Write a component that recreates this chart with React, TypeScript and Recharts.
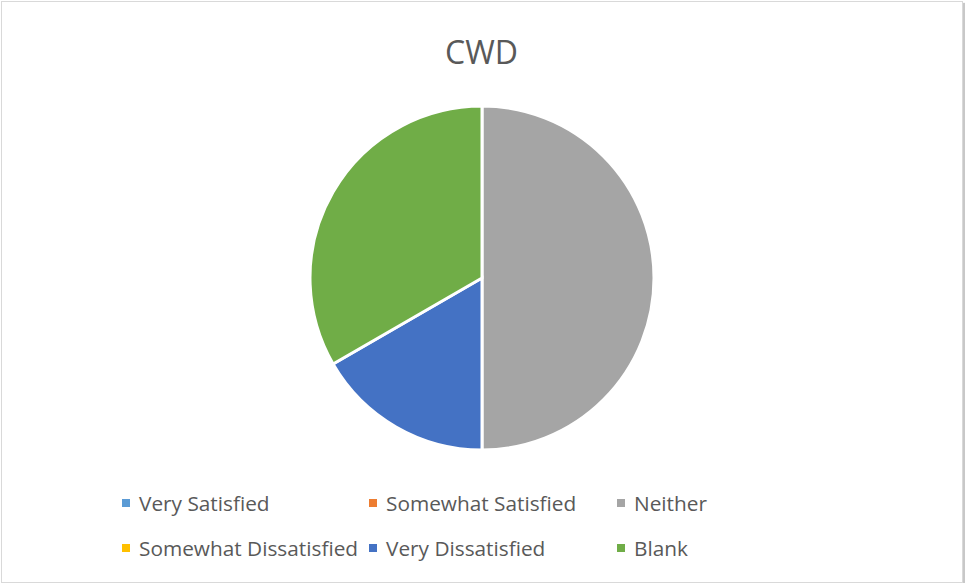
import { PieChart, Pie, Cell, Legend } from "recharts";

const categories = [
  "Very Satisfied",
  "Somewhat Satisfied",
  "Neither",
  "Somewhat Dissatisfied",
  "Very Dissatisfied",
  "Blank",
];
const counts = [0, 0, 3, 0, 1, 2];
const colors = ["#5B9BD5", "#ED7D31", "#A5A5A5", "#FFC000", "#4472C4", "#70AD47"];

const data = categories.map((name, i) => ({ name, value: counts[i] }));

const FONT = "'Open Sans', 'Noto Sans', sans-serif";
const colX = [122, 369, 617];
const rowY = [0, 45];

// recharts sorts the pie legend payload, so keep the original order here
function renderLegend() {
  return (
    <div style={{ position: "relative", width: 965, height: 70 }}>
      {categories.map((name, i) => (
        <div
          key={name}
          style={{
            position: "absolute",
            left: colX[i % 3],
            top: rowY[Math.floor(i / 3)],
            display: "flex",
            alignItems: "center",
            fontFamily: FONT,
            fontSize: 20.8,
            lineHeight: "26px",
            color: "#595959",
            whiteSpace: "nowrap",
          }}
        >
          <span
            style={{
              display: "inline-block",
              width: 8,
              height: 8,
              background: colors[i],
              marginRight: 9,
            }}
          />
          {name}
        </div>
      ))}
    </div>
  );
}

export default function App() {
  return (
    <div
      style={{
        position: "absolute",
        left: 0,
        top: 0,
        width: 965,
        height: 583,
        background: "#fff",
      }}
    >
      <div
        style={{
          position: "absolute",
          left: 1,
          top: 1,
          width: 960,
          height: 580,
          border: "1px solid #D9D9D9",
          boxShadow: "2px 2px 1px #C8C8C8",
        }}
      />
      <div
        style={{
          position: "absolute",
          top: 30,
          left: -1,
          width: 965,
          textAlign: "center",
          fontFamily: FONT,
          fontSize: 32,
          color: "#595959",
        }}
      >
        CWD
      </div>
      <div style={{ position: "absolute", left: 0, top: 0 }}>
        <PieChart
          width={965}
          height={583}
          margin={{ top: 0, right: 0, bottom: 0, left: 0 }}
        >
          <Pie
            data={data}
            dataKey="value"
            nameKey="name"
            cx={482}
            cy={278}
            outerRadius={172}
            startAngle={90}
            endAngle={-270}
            stroke="#fff"
            strokeWidth={3}
            isAnimationActive={false}
          >
            {data.map((d, i) => (
              <Cell key={d.name} fill={colors[i]} />
            ))}
          </Pie>
          <Legend
            content={renderLegend}
            wrapperStyle={{ left: 0, top: 490, width: 965 }}
          />
        </PieChart>
      </div>
    </div>
  );
}
